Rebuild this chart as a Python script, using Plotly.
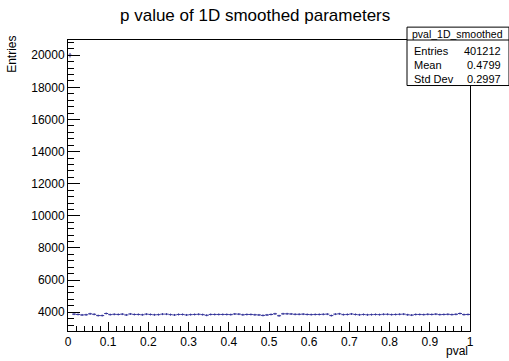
import numpy as np
import plotly.graph_objects as go

# ---- data ----
bin_edges_lo = 0.0
bin_width = 0.01
counts = [20000,
    3880, 3860, 3830, 3840, 3900, 3870, 3790, 3790, 3920, 3850,
    3870, 3860, 3880, 3830, 3890, 3860, 3860, 3840, 3880, 3860,
    3840, 3850, 3880, 3880, 3850, 3830, 3860, 3860, 3830, 3850,
    3860, 3870, 3850, 3810, 3860, 3860, 3860, 3860, 3860, 3850,
    3890, 3880, 3840, 3860, 3860, 3840, 3830, 3800, 3830, 3860,
    3900, 3780, 3900, 3900, 3890, 3870, 3870, 3880, 3860, 3850,
    3860, 3860, 3870, 3880, 3790, 3880, 3900, 3850, 3860, 3890,
    3860, 3840, 3860, 3840, 3850, 3860, 3850, 3870, 3870, 3850,
    3860, 3870, 3880, 3840, 3820, 3860, 3860, 3850, 3870, 3860,
    3880, 3850, 3860, 3870, 3850, 3870, 3920, 3850, 3860]
x_ticks = [0, 0.1, 0.2, 0.3, 0.4, 0.5, 0.6, 0.7, 0.8, 0.9, 1]
x_tick_labels = ["0", "0.1", "0.2", "0.3", "0.4", "0.5", "0.6", "0.7", "0.8", "0.9", "1"]
y_ticks = [4000, 6000, 8000, 10000, 12000, 14000, 16000, 18000, 20000]
y_tick_labels = ["4000", "6000", "8000", "10000", "12000", "14000", "16000", "18000", "20000"]
stat_name = "pval_1D_smoothed"
stat_labels = ["Entries", "Mean", "Std Dev"]
stat_values = ["401212", "0.4799", "0.2997"]
title = "p value of 1D smoothed parameters"

# ---- layout geometry (px) ----
W, H = 509, 361
L, R, T, B = 68, 470, 40, 334
pw, ph = R - L, B - T

def px(xp):
    return (xp - L) / pw

def py(yp):
    return (B - yp) / ph

centers = [bin_edges_lo + bin_width * (i + 0.5) for i in range(len(counts))]
errs = [float(np.sqrt(c)) for c in counts]
col = "#35359a"
font = "Liberation Sans, Arial, Helvetica, sans-serif"

fig = go.Figure()
fig.add_trace(go.Scatter(
    x=centers, y=counts, mode="markers",
    marker=dict(size=1, color=col),
    error_x=dict(type="data", array=[bin_width / 2] * len(counts), width=0, thickness=1, color=col),
    error_y=dict(type="data", array=errs, width=0, thickness=1, color=col),
    showlegend=False, hoverinfo="skip"))

fig.update_layout(
    width=W, height=H,
    margin=dict(l=L, r=W - R, t=T, b=H - B),
    paper_bgcolor="white", plot_bgcolor="white",
    font=dict(family=font, size=12, color="black"),
    showlegend=False,
)
fig.update_xaxes(
    range=[0, 1], tickvals=x_ticks, ticktext=x_tick_labels,
    ticks="inside", ticklen=9, tickcolor="black", tickwidth=1,
    minor=dict(dtick=0.02, tick0=0, ticks="inside", ticklen=5, tickcolor="black"),
    showline=True, linecolor="black", linewidth=1, mirror=True,
    showgrid=False, zeroline=False, tickfont=dict(size=12),
)
fig.update_yaxes(
    range=[2830, 20950], tickvals=y_ticks, ticktext=y_tick_labels,
    ticks="inside", ticklen=12, tickcolor="black", tickwidth=1,
    minor=dict(dtick=400, tick0=0, ticks="inside", ticklen=6, tickcolor="black"),
    showline=True, linecolor="black", linewidth=1, mirror=True,
    showgrid=False, zeroline=False, tickfont=dict(size=12),
)

ann = []
ann.append(dict(text=title, x=px(255), y=py(15), xref="paper", yref="paper",
                showarrow=False, xanchor="center", yanchor="middle", font=dict(size=17)))
ann.append(dict(text="Entries", x=px(12), y=py(55), xref="paper", yref="paper",
                showarrow=False, textangle=-90, xanchor="center", yanchor="middle", font=dict(size=12)))
ann.append(dict(text="pval", x=px(470), y=py(354), xref="paper", yref="paper",
                showarrow=False, xanchor="right", yanchor="middle", font=dict(size=12)))

# stat box
bx0, bx1, by0, by1, bsep = 407, 509, 27, 86, 40
shapes = [
    dict(type="rect", xref="paper", yref="paper", x0=px(bx0), x1=px(bx1), y0=py(by1), y1=py(by0),
         line=dict(color="black", width=1), fillcolor="white", layer="above"),
    dict(type="line", xref="paper", yref="paper", x0=px(bx0), x1=px(bx1), y0=py(bsep), y1=py(bsep),
         line=dict(color="black", width=1), layer="above"),
]
ann.append(dict(text=stat_name, x=px((bx0 + 507) / 2), y=py(33.5), xref="paper", yref="paper",
                showarrow=False, xanchor="center", yanchor="middle", font=dict(size=10.5)))
for i, (lab, val) in enumerate(zip(stat_labels, stat_values)):
    yy = 51 + 14 * i
    ann.append(dict(text=lab, x=px(412), y=py(yy), xref="paper", yref="paper",
                    showarrow=False, xanchor="left", yanchor="middle", font=dict(size=11)))
    ann.append(dict(text=val, x=px(503), y=py(yy), xref="paper", yref="paper",
                    showarrow=False, xanchor="right", yanchor="middle", font=dict(size=11)))

fig.update_layout(annotations=ann, shapes=shapes)
fig.write_html("out.html")
